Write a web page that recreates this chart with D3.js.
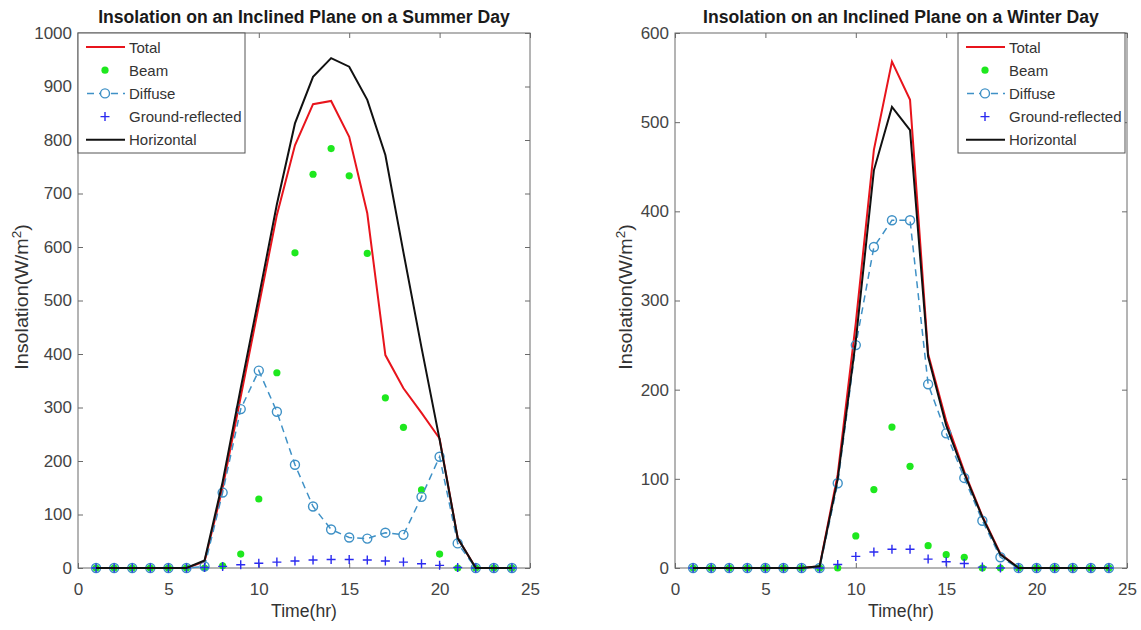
<!DOCTYPE html>
<html>
<head>
<meta charset="utf-8">
<script src="https://cdn.jsdelivr.net/npm/d3@7"></script>
<style>
  html, body { margin: 0; padding: 0; background: #fff; }
  svg { display: block; font-family: "Liberation Sans", Arial, sans-serif; }
</style>
</head>
<body>
<svg id="chart" width="1141" height="630"></svg>
<script>
// Hours of the day
const hours = d3.range(1, 25);

// Summer day insolation (W/m^2), hours 1..24
const summerTotal      = [0,0,0,0,0,0,12,150,320,490,660,790,867,873,806,663,398,336,290,242,56,0,0,0];
const summerBeam       = [0,0,0,0,0,0,0,4,26,129,365,589,736,784,733,588,318,263,146,26,0,0,0,0];
const summerDiffuse    = [0,0,0,0,0,0,3,141,297,369,292,193,115,72,57,55,66,62,133,208,46,0,0,0];
const summerGround     = [0,0,0,0,0,0,1,3,6,9,11,13,15,16,16,15,13,11,8,5,1,0,0,0];
const summerHorizontal = [0,0,0,0,0,0,14,161,336,506,680,831,918,953,937,875,772,590,412,240,56,0,0,0];

// Winter day insolation (W/m^2), hours 1..24
const winterTotal      = [0,0,0,0,0,0,0,2,105,275,469,568,525,240,165,108,58,16,0,0,0,0,0,0];
const winterBeam       = [0,0,0,0,0,0,0,0,0,36,88,158,114,25,15,12,0,0,0,0,0,0,0,0];
const winterDiffuse    = [0,0,0,0,0,0,0,0,95,250,360,390,390,206,151,101,53,12,0,0,0,0,0,0];
const winterGround     = [0,0,0,0,0,0,0,0,4,13,18,21,21,10,7,5,1,0,0,0,0,0,0,0];
const winterHorizontal = [0,0,0,0,0,0,0,2,100,255,446,517,491,237,160,106,57,15,0,0,0,0,0,0];

// Axis ticks and labels
const xTicks = [0, 5, 10, 15, 20, 25];
const summerYTicks = d3.range(0, 1001, 100);
const winterYTicks = d3.range(0, 601, 100);
const legendNames = ["Total", "Beam", "Diffuse", "Ground-reflected", "Horizontal"];
const titles = ["Insolation on an Inclined Plane on a Summer Day",
                "Insolation on an Inclined Plane on a Winter Day"];
const xLabel = "Time(hr)";

const COLORS = {
  total: "#e8141c",
  beam: "#1ee81e",
  diffuse: "#3f91c6",
  ground: "#2a2af0",
  horizontal: "#111"
};

const svg = d3.select("#chart");

function drawPanel(opt) {
  const { left, right, top, bottom, yMax, yTicks, title, series, legendX, yLabelX } = opt;
  const g = svg.append("g");
  const x = d3.scaleLinear().domain([0, 25]).range([left, right]);
  const y = d3.scaleLinear().domain([0, yMax]).range([bottom, top]);

  // Frame
  g.append("rect")
    .attr("x", left).attr("y", top)
    .attr("width", right - left).attr("height", bottom - top)
    .attr("fill", "#fff").attr("stroke", "#6a6a6a").attr("stroke-width", 1);

  // Axes with inward ticks on all four sides
  const axisStyle = sel => {
    sel.select(".domain").remove();
    sel.selectAll("line").attr("stroke", "#6a6a6a");
    sel.selectAll("text").attr("fill", "#444").style("font-size", "17px")
      .style("font-family", "'Liberation Sans', Arial, sans-serif");
  };
  const fmt = d3.format("d");
  g.append("g").attr("transform", `translate(0,${bottom})`)
    .call(d3.axisBottom(x).tickValues(xTicks).tickFormat(fmt).tickSizeInner(-5).tickSizeOuter(0).tickPadding(15))
    .call(axisStyle);
  g.append("g").attr("transform", `translate(0,${top})`)
    .call(d3.axisTop(x).tickValues(xTicks).tickSizeInner(-5).tickSizeOuter(0).tickFormat(""))
    .call(axisStyle);
  g.append("g").attr("transform", `translate(${left},0)`)
    .call(d3.axisLeft(y).tickValues(yTicks).tickFormat(fmt).tickSizeInner(-5).tickSizeOuter(0).tickPadding(6))
    .call(axisStyle);
  g.append("g").attr("transform", `translate(${right},0)`)
    .call(d3.axisRight(y).tickValues(yTicks).tickSizeInner(-5).tickSizeOuter(0).tickFormat(""))
    .call(axisStyle);

  // Title
  g.append("text")
    .attr("x", (left + right) / 2).attr("y", top - 10)
    .attr("text-anchor", "middle")
    .style("font-weight", "bold").style("font-size", "17.6px").attr("fill", "#1a1a1a")
    .text(title);

  // Axis labels
  g.append("text")
    .attr("x", (left + right) / 2).attr("y", bottom + 49)
    .attr("text-anchor", "middle").style("font-size", "17.6px").attr("fill", "#333")
    .text(xLabel);
  const yl = g.append("text")
    .attr("transform", `translate(${yLabelX},297) rotate(-90) scale(1.12,1)`)
    .attr("text-anchor", "middle").style("font-size", "17.6px").attr("fill", "#333");
  yl.append("tspan").text("Insolation(W/m");
  yl.append("tspan").attr("dy", -7).style("font-size", "12px").text("2");
  yl.append("tspan").attr("dy", 7).text(")");

  const pts = vals => vals.map((v, i) => [hours[i], v]);
  const line = d3.line().x(d => x(d[0])).y(d => y(d[1]));
  const plot = g.append("g");

  // Total
  plot.append("path").datum(pts(series.total))
    .attr("d", line).attr("fill", "none")
    .attr("stroke", COLORS.total).attr("stroke-width", 2);

  // Beam (markers only)
  plot.append("g").selectAll("circle").data(pts(series.beam)).join("circle")
    .attr("cx", d => x(d[0])).attr("cy", d => y(d[1])).attr("r", 3.6)
    .attr("fill", COLORS.beam);

  // Diffuse: dashed line with open circles
  plot.append("path").datum(pts(series.diffuse))
    .attr("d", line).attr("fill", "none")
    .attr("stroke", COLORS.diffuse).attr("stroke-width", 1.5)
    .attr("stroke-dasharray", "7,5");
  plot.append("g").selectAll("circle").data(pts(series.diffuse)).join("circle")
    .attr("cx", d => x(d[0])).attr("cy", d => y(d[1])).attr("r", 4.5)
    .attr("fill", "none").attr("stroke", COLORS.diffuse).attr("stroke-width", 1.4);

  // Ground-reflected (plus markers)
  plot.append("g").selectAll("path").data(pts(series.ground)).join("path")
    .attr("transform", d => `translate(${x(d[0])},${y(d[1])})`)
    .attr("d", "M-4.5,0H4.5M0,-4.5V4.5")
    .attr("stroke", COLORS.ground).attr("stroke-width", 1.4).attr("fill", "none");

  // Horizontal
  plot.append("path").datum(pts(series.horizontal))
    .attr("d", line).attr("fill", "none")
    .attr("stroke", COLORS.horizontal).attr("stroke-width", 2);

  // Legend
  const lw = 167, lh = 120;
  const lg = g.append("g").attr("transform", `translate(${legendX},${top})`);
  lg.append("rect").attr("width", lw).attr("height", lh)
    .attr("fill", "#fff").attr("stroke", "#555").attr("stroke-width", 1);
  legendNames.forEach((name, i) => {
    const cy = 14 + i * 23.2;
    const row = lg.append("g").attr("transform", `translate(0,${cy})`);
    if (name === "Total" || name === "Horizontal") {
      row.append("line").attr("x1", 8).attr("x2", 47).attr("y1", 0).attr("y2", 0)
        .attr("stroke", name === "Total" ? COLORS.total : COLORS.horizontal).attr("stroke-width", 2);
    } else if (name === "Beam") {
      row.append("circle").attr("cx", 27).attr("cy", 0).attr("r", 3.6).attr("fill", COLORS.beam);
    } else if (name === "Diffuse") {
      row.append("line").attr("x1", 8).attr("x2", 47).attr("y1", 0).attr("y2", 0)
        .attr("stroke", COLORS.diffuse).attr("stroke-width", 1.5).attr("stroke-dasharray", "7,5")
        .attr("stroke-dashoffset", -1);
      row.append("circle").attr("cx", 27).attr("cy", 0).attr("r", 4.5)
        .attr("fill", "#fff").attr("stroke", COLORS.diffuse).attr("stroke-width", 1.4);
    } else {
      row.append("path").attr("transform", "translate(27,0)")
        .attr("d", "M-4.5,0H4.5M0,-4.5V4.5")
        .attr("stroke", COLORS.ground).attr("stroke-width", 1.4);
    }
    row.append("text").attr("x", 51).attr("y", 5.5)
      .style("font-size", "15px").attr("fill", "#333").text(name);
  });
}

drawPanel({
  left: 78, right: 530, top: 33, bottom: 568, yMax: 1000, yTicks: summerYTicks,
  title: titles[0], legendX: 78, yLabelX: 28,
  series: { total: summerTotal, beam: summerBeam, diffuse: summerDiffuse,
            ground: summerGround, horizontal: summerHorizontal }
});
drawPanel({
  left: 675, right: 1127, top: 33, bottom: 568, yMax: 600, yTicks: winterYTicks,
  title: titles[1], legendX: 958, yLabelX: 632,
  series: { total: winterTotal, beam: winterBeam, diffuse: winterDiffuse,
            ground: winterGround, horizontal: winterHorizontal }
});
</script>
</body>
</html>
